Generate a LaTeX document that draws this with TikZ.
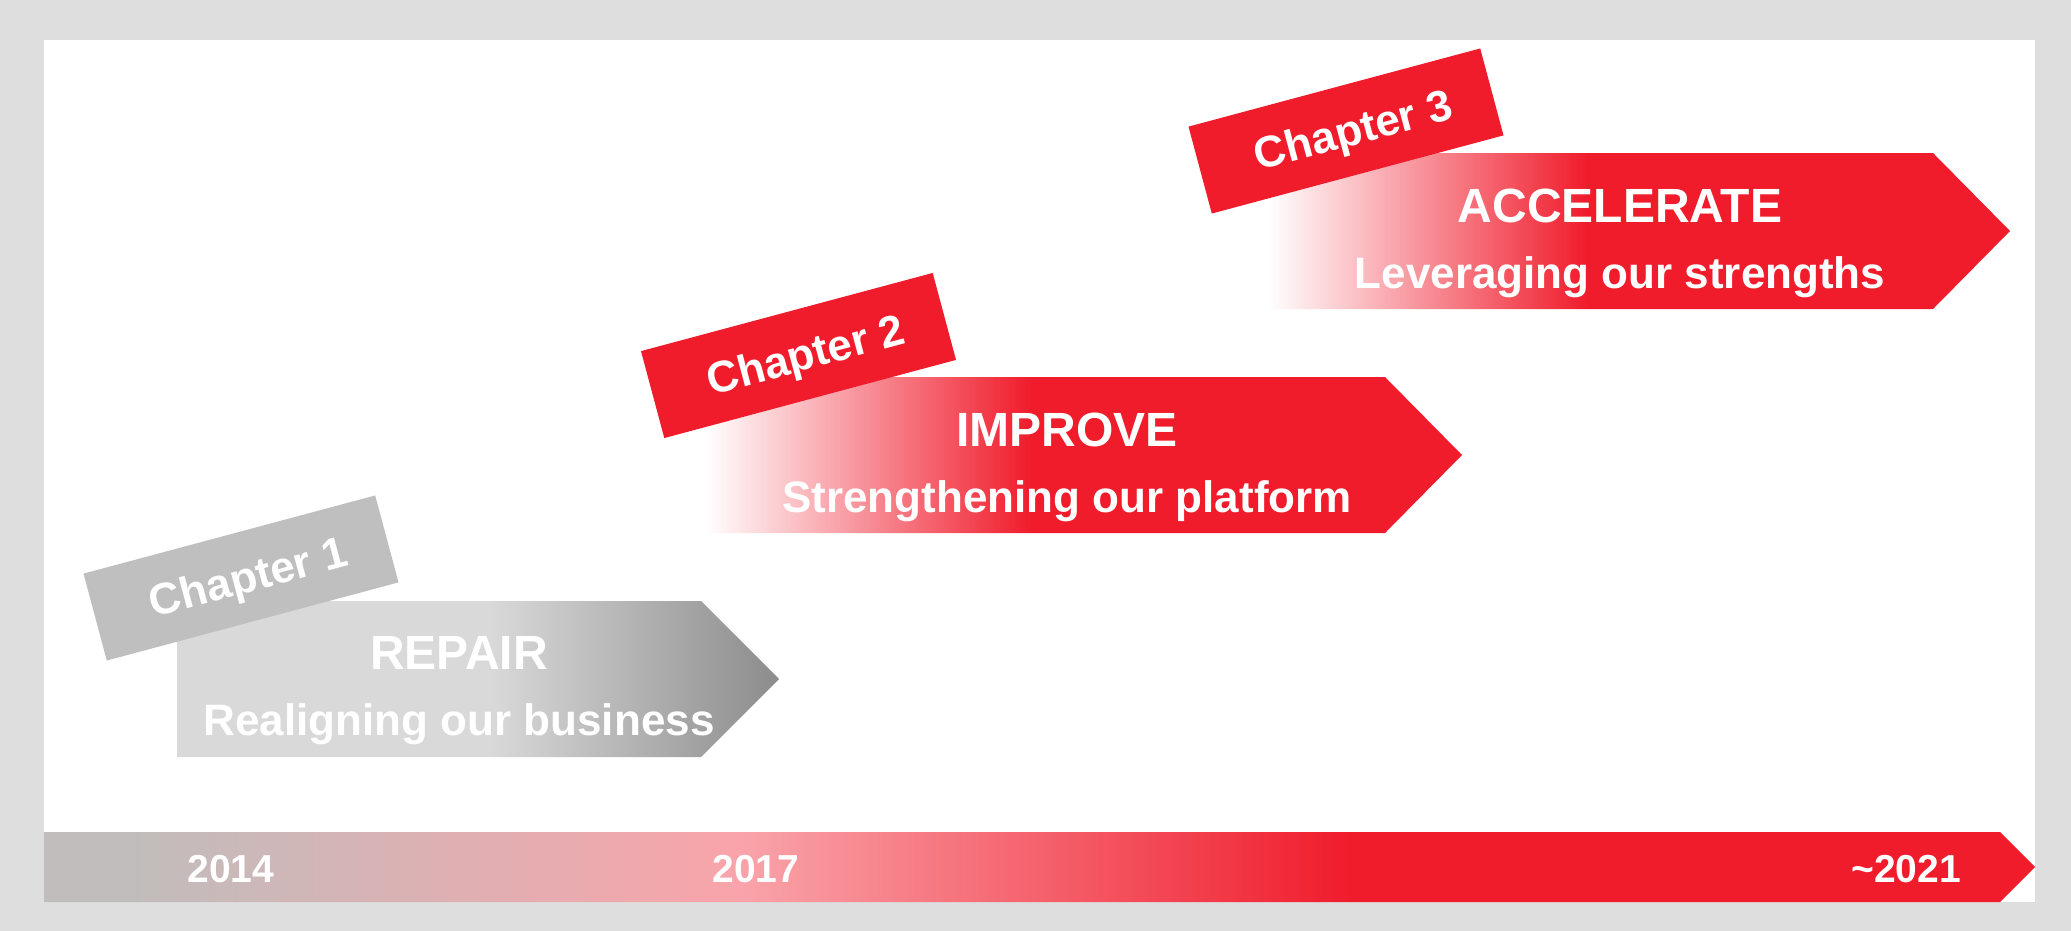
\documentclass[tikz,border=0pt]{standalone}
\usepackage{fontspec}
\setmainfont{Liberation Sans}

\definecolor{chapred}{RGB}{240,28,44}
\definecolor{chapgray}{RGB}{191,191,191}
\definecolor{framegray}{RGB}{222,222,222}
\definecolor{repairlight}{RGB}{217,217,217}
\definecolor{repairdark}{RGB}{140,140,140}
\definecolor{bargray}{RGB}{192,189,188}
\definecolor{barpink}{RGB}{249,164,170}

\pgfdeclarehorizontalshading{repairshade}{100bp}{color(0bp)=(repairlight); color(51bp)=(repairlight); color(75bp)=(repairdark); color(100bp)=(repairdark)}
\pgfdeclarehorizontalshading{fadered}{100bp}{color(0bp)=(white); color(25bp)=(white); color(46.5bp)=(chapred); color(100bp)=(chapred)}
\pgfdeclarehorizontalshading{barshade}{100bp}{color(0bp)=(bargray); color(27bp)=(bargray); color(42.5bp)=(barpink); color(57.8bp)=(chapred); color(100bp)=(chapred)}

\begin{document}
\begin{tikzpicture}[x=0.5pt,y=-0.5pt,node distance=33pt,
    headline/.style={font=\fontsize{24}{24}\selectfont\bfseries,text=white,text height=18pt,text depth=5pt,inner sep=0pt},
    subline/.style={font=\fontsize{22}{22}\selectfont\bfseries,text=white,text height=18pt,text depth=5pt,inner sep=0pt},
    chapbox/.style={rotate=15,minimum width=151pt,minimum height=45pt,inner sep=0pt,text height=16pt,text depth=0pt,text=white,font=\fontsize{22}{22}\selectfont\bfseries},
    yearlabel/.style={anchor=base,text=white,inner sep=0pt,font=\fontsize{19.5}{19.5}\selectfont\bfseries}]
            % frame
            \fill[framegray] (0,0) rectangle (2071,931);
            \fill[white] (44,40) rectangle (2035,902);

            % time bar
            \shade[shading=barshade] (44,832) -- (2000,832) -- (2035,867) -- (2000,902) -- (44,902) -- cycle;
            \node[yearlabel] (y1) at (231,882) {2014};
            \node[yearlabel] (y2) at (756,882) {2017};
            \node[yearlabel] (y3) at (1906,882) {\textasciitilde2021};

            % chapter arrows
            \shade[shading=repairshade] (177,601) -- (701,601) -- (779,679) -- (701,757) -- (177,757) -- cycle;
            \shade[shading=fadered] (705,377) -- (1385,377) -- (1462,455) -- (1385,533) -- (705,533) -- cycle;
            \shade[shading=fadered] (1268,153) -- (1933,153) -- (2010,231) -- (1933,309) -- (1268,309) -- cycle;

            \node[chapbox,fill=chapgray] (c1) at (241,578) {\hspace*{7pt}Chapter 1};
            \node[chapbox,fill=chapred] (c2) at (798.5,355.5) {\hspace*{7pt}Chapter 2};
            \node[chapbox,fill=chapred] (c3) at (1346,131) {\hspace*{7pt}Chapter 3};

            \node[headline,anchor=base] (h1) at (459,669) {REPAIR};
            \node[subline] (s1) [below of = h1] {Realigning our business};
            \node[headline,anchor=base] (h2) at (1067,446) {IMPROVE};
            \node[subline] (s2) [below of = h2] {Strengthening our platform};
            \node[headline,anchor=base] (h3) at (1620,222) {ACCELERATE};
            \node[subline] (s3) [below of = h3] {Leveraging our strengths};
\end{tikzpicture}
\end{document}
